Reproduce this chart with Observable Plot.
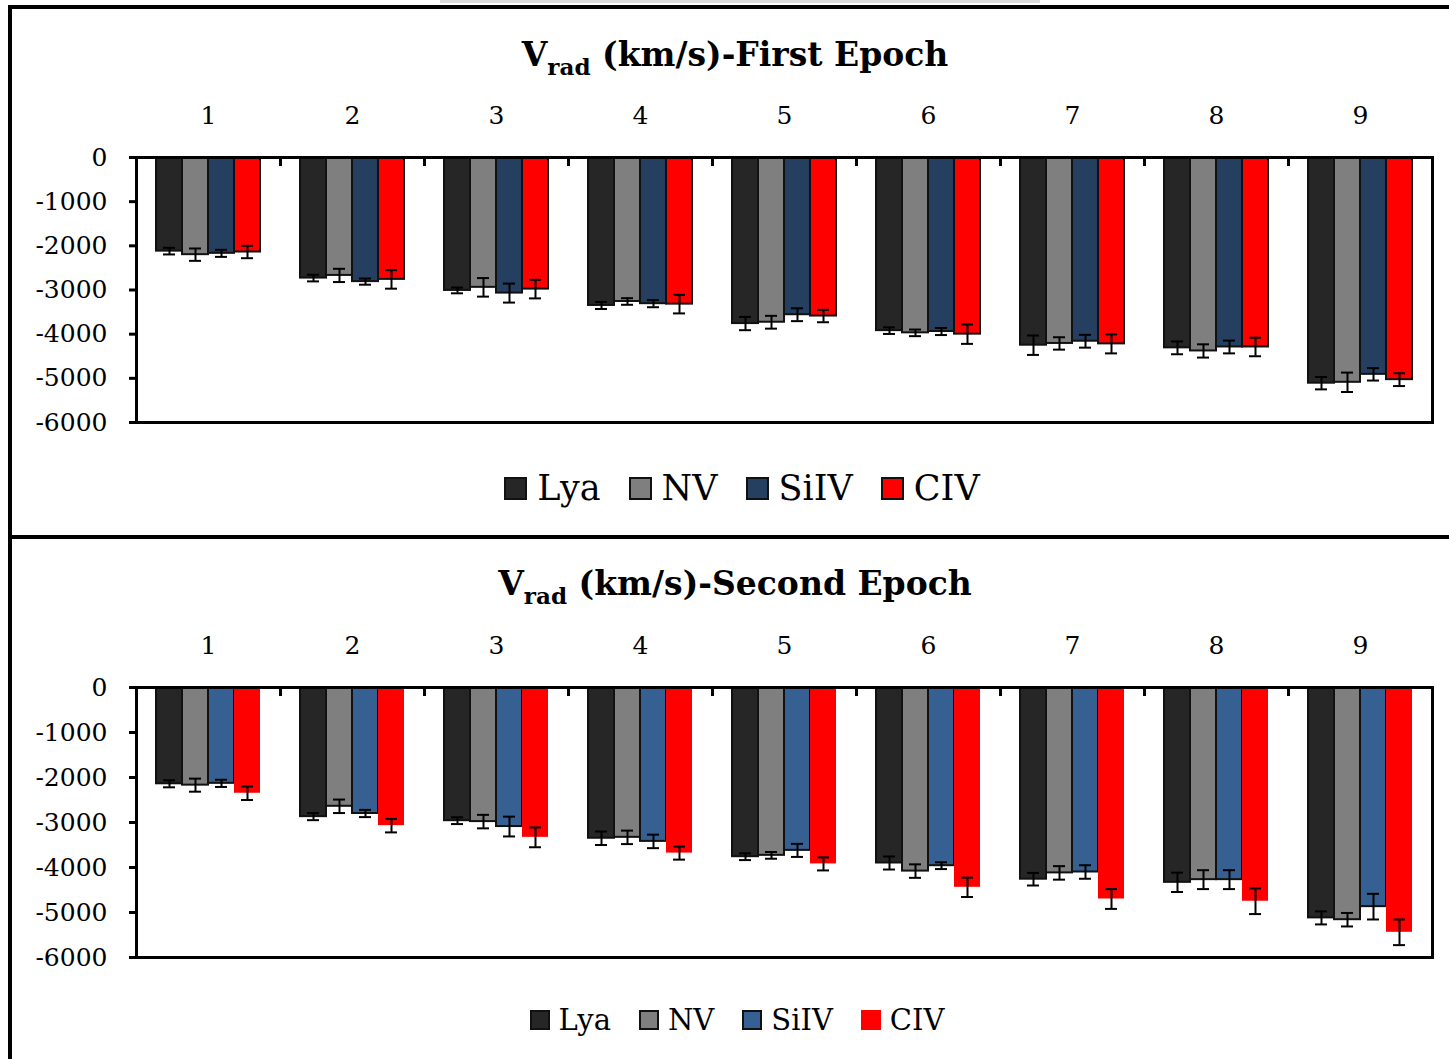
<!DOCTYPE html>
<html>
<head>
<meta charset="utf-8">
<script src="https://cdn.jsdelivr.net/npm/d3@7"></script>
<script src="https://cdn.jsdelivr.net/npm/@observablehq/plot@0.6"></script>
<style>
  html, body { margin: 0; padding: 0; background: #fff; }
  body { width: 1449px; height: 1059px; overflow: hidden; position: relative; font-family: "DejaVu Serif", serif; color: #000; }
  .panel { position: absolute; left: 8px; width: 1500px; border-left: 4px solid #000; border-top: 4px solid #000; box-sizing: border-box; }
  #panel1 { top: 5px; height: 531px; }
  #panel2 { top: 535px; height: 600px; }
  .topgray { position: absolute; left: 440px; width: 600px; top: 0; height: 3px; background: #d9d9d9; }
  .title { position: absolute; left: 0; width: 1470px; text-align: center; font-weight: bold; font-size: 33px; line-height: 1; white-space: nowrap; }
  .title sub { font-size: 0.7em; vertical-align: -0.38em; }
  .chart { position: absolute; left: 0; }
  .legend { position: absolute; left: 0; width: 1470px; display: flex; justify-content: center; align-items: center; white-space: nowrap; }
  .legend .item { display: flex; align-items: center; }
  .legend .sw { display: inline-block; box-sizing: border-box; border: 2px solid #111; }
</style>
</head>
<body>
<div class="topgray"></div>
<div class="panel" id="panel1"></div>
<div class="panel" id="panel2"></div>
<div class="title" id="title1" style="top:38px">V<sub>rad</sub> (km/s)-First Epoch</div>
<div class="chart" id="chart1" style="top:80px"></div>
<div class="legend" id="legend1" style="top:466px;height:44px;font-size:35px;padding-left:7px"></div>
<div class="title" id="title2" style="top:567px">V<sub>rad</sub> (km/s)-Second Epoch</div>
<div class="chart" id="chart2" style="top:610px"></div>
<div class="legend" id="legend2" style="top:1000px;height:40px;font-size:29px;padding-left:2px"></div>
<script>
// ---------- data ----------
const groups = [1, 2, 3, 4, 5, 6, 7, 8, 9];
const series = ["Lya", "NV", "SiIV", "CIV"];
const yTicks = [0, -1000, -2000, -3000, -4000, -5000, -6000];

// First epoch radial velocities (km/s)
const lya1  = [-2120, -2730, -3010, -3350, -3760, -3920, -4250, -4310, -5110];
const nv1   = [-2200, -2670, -2940, -3260, -3730, -3970, -4210, -4380, -5090];
const siiv1 = [-2170, -2810, -3070, -3310, -3560, -3940, -4160, -4290, -4910];
const civ1  = [-2140, -2760, -2980, -3320, -3590, -4000, -4220, -4290, -5030];
const lya1Err  = [75, 75, 65, 80, 150, 75, 220, 145, 140];
const nv1Err   = [140, 150, 210, 75, 145, 75, 140, 150, 220];
const siiv1Err = [80, 70, 215, 80, 145, 80, 145, 145, 140];
const civ1Err  = [140, 210, 210, 210, 140, 220, 215, 210, 145];

// Second epoch radial velocities (km/s)
const lya2  = [-2140, -2870, -2960, -3350, -3760, -3900, -4260, -4330, -5120];
const nv2   = [-2170, -2640, -2980, -3330, -3730, -4080, -4120, -4270, -5160];
const siiv2 = [-2130, -2800, -3090, -3420, -3620, -3960, -4100, -4270, -4870];
const civ2  = [-2350, -3070, -3330, -3680, -3920, -4440, -4700, -4750, -5440];
const lya2Err  = [78, 78, 75, 150, 75, 145, 140, 215, 145];
const nv2Err   = [145, 150, 150, 150, 75, 150, 150, 210, 150];
const siiv2Err = [80, 80, 220, 150, 145, 75, 150, 210, 285];
const civ2Err  = [150, 150, 220, 145, 145, 215, 220, 285, 285];

const colors1 = ["#262626", "#7f7f7f", "#243f60", "#ff0000"];
const colors2 = ["#262626", "#7f7f7f", "#376092", "#ff0000"];

// ---------- chart ----------
const FONT = "'DejaVu Serif', serif";

function buildRows(vals, errs) {
  const rows = [];
  groups.forEach((g, i) => series.forEach((s, j) => rows.push({group: g, series: s, value: vals[j][i], err: errs[j][i]})));
  return rows;
}

function chart(rows, colors, outlined, innerH) {
  const mt = 77, mb = 10;
  const withLine = rows.filter(d => outlined.includes(d.series));
  const noLine = rows.filter(d => !outlined.includes(d.series));
  return Plot.plot({
    width: 1449,
    height: mt + innerH + mb,
    marginLeft: 135, marginRight: 17, marginTop: mt, marginBottom: mb,
    style: {fontFamily: FONT, fontSize: "25px", color: "#000", background: "transparent", overflow: "visible"},
    fx: {domain: groups, padding: 0, axis: null, label: null},
    x: {domain: series, paddingInner: 0, paddingOuter: 0.745, axis: null, label: null},
    y: {domain: [-6000, 0], axis: null, label: null},
    color: {domain: series, range: colors},
    marks: [
      Plot.barY(withLine, {fx: "group", x: "series", y: "value", fill: "series", stroke: "#111", strokeWidth: 2}),
      Plot.barY(noLine, {fx: "group", x: "series", y: "value", fill: "series"}),
      Plot.ruleX(rows, {fx: "group", x: "series", y1: d => d.value - d.err, y2: d => d.value + d.err, stroke: "#000", strokeWidth: 2}),
      Plot.tickY(rows, {fx: "group", x: "series", y: d => d.value - d.err, insetLeft: 7, insetRight: 7, stroke: "#000", strokeWidth: 2}),
      Plot.tickY(rows, {fx: "group", x: "series", y: d => d.value + d.err, insetLeft: 7, insetRight: 7, stroke: "#000", strokeWidth: 2}),
      Plot.frame({anchor: "left", insetBottom: innerH - 7, stroke: "#000", strokeWidth: 3}),
      Plot.frame({facet: "super", stroke: "#000", strokeWidth: 3}),
      Plot.axisY({ticks: yTicks, tickSize: 7, tickPadding: 22, strokeWidth: 3, tickFormat: d => String(d), fontSize: 25, label: null}),
      Plot.axisFx({anchor: "top", tickSize: 0, tickPadding: 34, fontSize: 25, label: null})
    ]
  });
}

function legend(el, colors, outlined, size, swGap, itemGap) {
  series.forEach((s, j) => {
    const item = document.createElement("div");
    item.className = "item";
    item.style.margin = "0 " + itemGap + "px";
    const sw = document.createElement("span");
    sw.className = "sw";
    sw.style.width = size + "px";
    sw.style.height = size + "px";
    sw.style.marginRight = swGap + "px";
    sw.style.background = colors[j];
    if (!outlined.includes(s)) sw.style.border = "none";
    const t = document.createElement("span");
    t.textContent = s;
    item.appendChild(sw);
    item.appendChild(t);
    el.appendChild(item);
  });
}

const rows1 = buildRows([lya1, nv1, siiv1, civ1], [lya1Err, nv1Err, siiv1Err, civ1Err]);
const rows2 = buildRows([lya2, nv2, siiv2, civ2], [lya2Err, nv2Err, siiv2Err, civ2Err]);
const outlined1 = ["Lya", "NV", "SiIV", "CIV"];
const outlined2 = ["Lya", "NV", "SiIV"];

document.getElementById("chart1").appendChild(chart(rows1, colors1, outlined1, 265));
document.getElementById("chart2").appendChild(chart(rows2, colors2, outlined2, 270));
legend(document.getElementById("legend1"), colors1, outlined1, 23, 10, 14);
legend(document.getElementById("legend2"), colors2, outlined2, 20, 9, 14);
</script>
</body>
</html>
